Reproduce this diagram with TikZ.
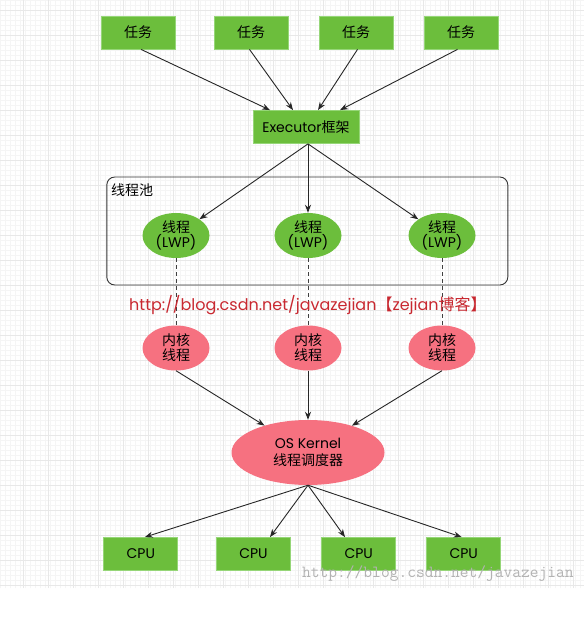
\documentclass[tikz,border=0pt]{standalone}
\usepackage{fontspec}
\setmainfont{Noto Sans CJK SC}
\newfontfamily\latfont{Poppins}
\usetikzlibrary{shapes.geometric,arrows.meta,positioning}
\definecolor{boxgreen}{RGB}{108,190,60}
\definecolor{boxedge}{RGB}{150,214,120}
\definecolor{kernpink}{RGB}{246,113,128}
\definecolor{urlred}{RGB}{200,40,48}

\begin{document}
\begin{tikzpicture}[x=1pt,y=-1pt,
        greenbox/.style={draw=boxedge, fill=boxgreen, line width=0.8pt, minimum width=74, minimum height=33, inner sep=0pt, font=\fontsize{14}{15}\selectfont},
        thread/.style={ellipse, fill=boxgreen, minimum width=67, minimum height=45, inner sep=0pt, align=center, font=\fontsize{14}{15}\selectfont},
        kthread/.style={ellipse, fill=kernpink, minimum width=67, minimum height=45, inner sep=0pt, align=center, font=\fontsize{14}{15}\selectfont},
        pool/.style={draw=black!80, line width=0.9pt, rounded corners=8pt, inner sep=0pt},
        arr/.style={-{Stealth[length=8pt,width=6pt]}, line width=0.9pt, black!85},
        dashline/.style={dash pattern=on 4pt off 3pt, line width=1pt, black!75},
        urltext/.style={text=urlred, inner sep=0pt, font=\fontsize{16}{18}\selectfont},
        wmtext/.style={text=black!30, inner sep=0pt, font=\ttfamily\fontsize{17}{18}\selectfont}]
        % background and grid
        \fill[white] (0,0) rectangle (584,617);
        \useasboundingbox (0,0) rectangle (584,617);
        \draw[black!4, line width=0.3pt, step=5pt] (0,0) grid (584,588);
        \begin{scope}[shift={(-2,10)}]
            \draw[black!9, line width=0.5pt, step=25pt] (2,-10) grid (586,578);
        \end{scope}

        % tasks and executor
        \node[greenbox] (task1) at (138,32.5) {任务};
        \node[greenbox] (task2) at (251,32.5) {任务};
        \node[greenbox] (task3) at (356,32.5) {任务};
        \node[greenbox] (task4) at (461,32.5) {任务};
        \node[greenbox, minimum width=106] (exec) at (306,127) {{\latfont Executor}框架};

        \draw[arr] ([xshift=3]task1.south) -- ([xshift=-36]exec.north);
        \draw[arr] ([xshift=-1.5]task2.south) -- ([xshift=-13]exec.north);
        \draw[arr] ([xshift=1.5]task3.south) -- ([xshift=12]exec.north);
        \draw[arr] ([xshift=-3.5]task4.south) -- ([xshift=34]exec.north);

        % thread pool
        \node[pool, minimum width=401, minimum height=108] (pool) at (307.3,231) {};
        \node[anchor=west, inner sep=0pt, font=\fontsize{14}{15}\selectfont] (poollabel) at (111,190) {线程池};
        \node[thread] (th1) at (176,235.5) {线程\\{\latfont (LWP)}};
        \node[thread] (th2) at (308,235.5) {线程\\{\latfont (LWP)}};
        \node[thread] (th3) at (442,235.5) {线程\\{\latfont (LWP)}};

        \draw[arr] ([xshift=2]exec.south) -- (th1);
        \draw[arr] ([xshift=2]exec.south) -- (th2);
        \draw[arr] ([xshift=2]exec.south) -- (th3);

        % kernel threads
        \node[kthread] (k1) at (176,348) {内核\\线程};
        \node[kthread] (k2) at (308,348) {内核\\线程};
        \node[kthread] (k3) at (442,348) {内核\\线程};

        \draw[dashline] (th1) -- (k1);
        \draw[dashline] (th2) -- (k2);
        \draw[dashline] (th3) -- (k3);

        \node[urltext, anchor=west] (url) at (129,305) {{\latfont http://blog.csdn.net/javazejian}【{\latfont zejian}博客】};

        % scheduler and cpus
        \node[kthread, minimum width=153, minimum height=65, font=\fontsize{14}{17}\selectfont] (os) at (308,452.5) {{\latfont OS Kernel}\\线程调度器};

        \draw[arr] (k1.south) -- (os);
        \draw[arr] (k2.south) -- (os);
        \draw[arr] (k3.south) -- (os);

        \node[greenbox] (cpu1) at (140.8,554) {\latfont CPU};
        \node[greenbox] (cpu2) at (253.5,554) {\latfont CPU};
        \node[greenbox] (cpu3) at (358.7,554) {\latfont CPU};
        \node[greenbox] (cpu4) at (463.7,554) {\latfont CPU};

        \draw[arr] (os.south) -- ([xshift=4]cpu1.north);
        \draw[arr] (os.south) -- ([xshift=16.5]cpu2.north);
        \draw[arr] (os.south) -- ([xshift=-13.7]cpu3.north);
        \draw[arr] (os.south) -- ([xshift=-2]cpu4.north);

        \node[wmtext, anchor=west] (wm) at (302,574) {http://blog.csdn.net/javazejian};
    \end{tikzpicture}
\end{document}
